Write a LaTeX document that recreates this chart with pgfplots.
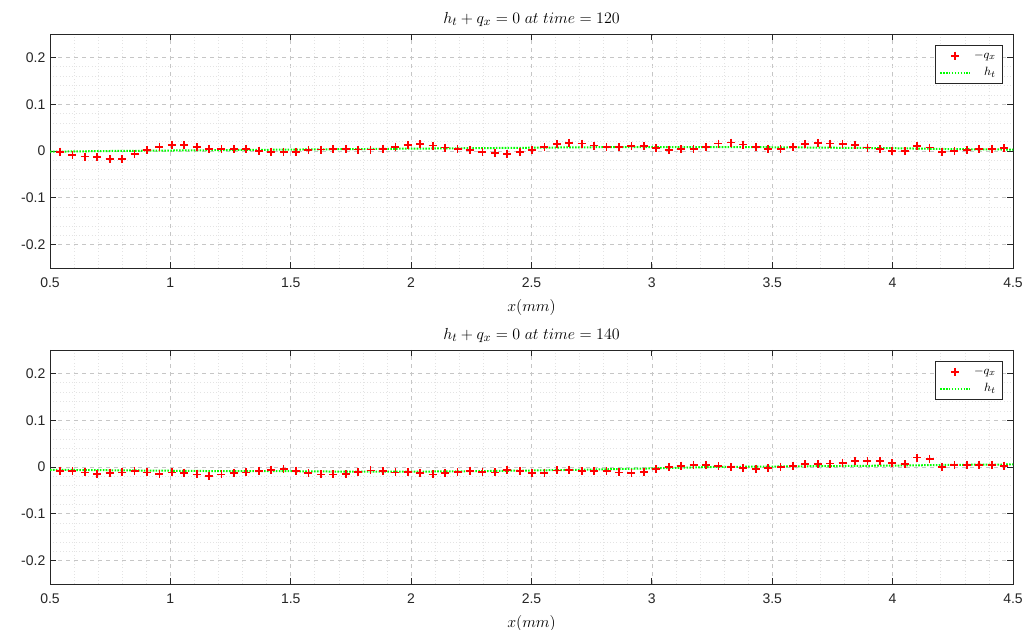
\documentclass[border=0pt]{standalone}
\usepackage{fontspec}
\setmainfont{Liberation Sans}
\usepackage{pgfplots}
\usepackage{pgfplotstable}
\pgfplotsset{compat=1.18}

% -q_x samples, time = 120
\pgfplotstableread{
x y
0.5415 -0.0014
0.5931 -0.0086
0.6447 -0.0120
0.6963 -0.0136
0.7479 -0.0170
0.7995 -0.0170
0.8511 -0.0065
0.9027 0.0020
0.9543 0.0093
1.0059 0.0130
1.0575 0.0130
1.1091 0.0080
1.1607 0.0043
1.2123 0.0043
1.2639 0.0043
1.3155 0.0043
1.3671 0.0007
1.4187 -0.0014
1.4703 -0.0020
1.5219 -0.0020
1.5735 0.0014
1.6251 0.0030
1.6767 0.0040
1.7283 0.0040
1.7799 0.0030
1.8315 0.0030
1.8831 0.0050
1.9347 0.0093
1.9863 0.0122
2.0379 0.0143
2.0895 0.0115
2.1411 0.0072
2.1927 0.0043
2.2443 0.0014
2.2959 -0.0022
2.3475 -0.0043
2.3991 -0.0057
2.4507 -0.0029
2.5023 0.0022
2.5539 0.0079
2.6055 0.0150
2.6571 0.0172
2.7087 0.0158
2.7603 0.0115
2.8119 0.0079
2.8635 0.0079
2.9151 0.0100
2.9667 0.0100
3.0183 0.0065
3.0699 0.0029
3.1215 0.0036
3.1731 0.0050
3.2247 0.0079
3.2763 0.0158
3.3279 0.0179
3.3795 0.0136
3.4311 0.0086
3.4827 0.0050
3.5343 0.0043
3.5859 0.0093
3.6375 0.0150
3.6891 0.0172
3.7407 0.0158
3.7923 0.0150
3.8439 0.0122
3.8955 0.0072
3.9471 0.0036
3.9987 0.0000
4.0503 -0.0007
4.1019 0.0108
4.1535 0.0072
4.2051 -0.0014
4.2567 0.0000
4.3083 0.0029
4.3599 0.0036
4.4115 0.0043
4.4631 0.0057
}\qtopdata

% h_t, time = 120
\pgfplotstableread{
x y
0.50 -0.0015
0.75 0.0000
1.00 0.0010
1.25 0.0020
1.50 0.0030
1.75 0.0040
2.00 0.0050
2.25 0.0060
2.50 0.0070
2.75 0.0080
3.00 0.0085
3.25 0.0085
3.50 0.0080
3.75 0.0070
4.00 0.0060
4.25 0.0040
4.50 0.0030
}\htopdata

% -q_x samples, time = 140
\pgfplotstableread{
x y
0.5415 -0.0079
0.5931 -0.0086
0.6447 -0.0115
0.6963 -0.0143
0.7479 -0.0122
0.7995 -0.0115
0.8511 -0.0086
0.9027 -0.0115
0.9543 -0.0143
1.0059 -0.0115
1.0575 -0.0122
1.1091 -0.0158
1.1607 -0.0186
1.2123 -0.0158
1.2639 -0.0129
1.3155 -0.0115
1.3671 -0.0079
1.4187 -0.0057
1.4703 -0.0050
1.5219 -0.0079
1.5735 -0.0136
1.6251 -0.0158
1.6767 -0.0158
1.7283 -0.0150
1.7799 -0.0108
1.8315 -0.0072
1.8831 -0.0093
1.9347 -0.0115
1.9863 -0.0100
2.0379 -0.0136
2.0895 -0.0158
2.1411 -0.0129
2.1927 -0.0108
2.2443 -0.0079
2.2959 -0.0100
2.3475 -0.0115
2.3991 -0.0057
2.4507 -0.0086
2.5023 -0.0136
2.5539 -0.0122
2.6055 -0.0072
2.6571 -0.0057
2.7087 -0.0086
2.7603 -0.0086
2.8119 -0.0086
2.8635 -0.0115
2.9151 -0.0129
2.9667 -0.0100
3.0183 -0.0043
3.0699 0.0000
3.1215 0.0029
3.1731 0.0036
3.2247 0.0036
3.2763 0.0014
3.3279 0.0000
3.3795 -0.0029
3.4311 -0.0036
3.4827 -0.0029
3.5343 0.0000
3.5859 0.0029
3.6375 0.0057
3.6891 0.0057
3.7407 0.0072
3.7923 0.0093
3.8439 0.0122
3.8955 0.0122
3.9471 0.0122
3.9987 0.0086
4.0503 0.0057
4.1019 0.0201
4.1535 0.0172
4.2051 0.0000
4.2567 0.0036
4.3083 0.0043
4.3599 0.0050
4.4115 0.0043
4.4631 0.0029
}\qbotdata

% h_t, time = 140
\pgfplotstableread{
x y
0.50 -0.0060
0.75 -0.0070
1.00 -0.0080
1.25 -0.0090
1.50 -0.0090
1.75 -0.0100
2.00 -0.0100
2.25 -0.0090
2.50 -0.0075
2.75 -0.0055
3.00 -0.0030
3.25 0.0000
3.50 0.0010
3.75 0.0020
4.00 0.0030
4.25 0.0045
4.50 0.0055
}\hbotdata

\definecolor{mgreen}{rgb}{0,1,0}
\definecolor{maxis}{rgb}{0.15,0.15,0.15}

\pgfplotsset{
  mlab/.style={
    scale only axis,
    width=722.25pt, height=175.5pt,
    xmin=0.5, xmax=4.5, ymin=-0.25, ymax=0.25,
    xtick={0.5,1,1.5,2,2.5,3,3.5,4,4.5},
    ytick={-0.2,-0.1,0,0.1,0.2},
    minor x tick num=4, minor y tick num=4,
    grid=both,
    major grid style={dashed, gray!45, line width=0.5pt},
    minor grid style={dotted, gray!22, line width=0.5pt},
    tick align=inside, major tick length=4.5pt, minor tick length=0pt,
    axis line style={maxis, line width=0.6pt},
    tick style={maxis, line width=0.6pt},
    ticklabel style={font=\fontsize{10.5}{12}\selectfont, text=maxis},
    xticklabel style={yshift=-3.5pt},
    /pgf/number format/assume math mode=true,
    title style={font=\fontsize{12.2}{14}\selectfont, yshift=-4pt},
    xlabel style={font=\fontsize{12}{14}\selectfont, yshift=-2.5pt},
    xlabel={$x(mm)$},
    legend cell align=right,
    legend style={at={(0.9896,0.951)}, anchor=north east,
      draw=maxis, line width=0.6pt, fill=white,
      font=\fontsize{9.5}{10}\selectfont, row sep=1.5pt},
    legend image code/.code={\draw[mark repeat=2,mark phase=2]
      plot coordinates {(0cm,0cm) (0.4cm,0cm) (0.8cm,0cm)};},
  },
  qstyle/.style={only marks, mark=+, mark size=3pt, red, line width=1.3pt},
  hstyle/.style={no marks, mgreen, line width=1.5pt, dash pattern=on 1.2pt off 1pt},
}

\begin{document}
\begin{tikzpicture}
\begin{axis}[mlab, at={(0pt,0pt)}, anchor=north west,
  title={$h_t + q_x = 0\ at\ time = 120$}]
\addplot[qstyle] table[x=x,y=y] {\qtopdata};
\addplot[hstyle] table[x=x,y=y] {\htopdata};
\legend{$-q_x$,$h_t$}
\end{axis}
\begin{axis}[mlab, at={(0pt,-237pt)}, anchor=north west,
  title={$h_t + q_x = 0\ at\ time = 140$}]
\addplot[qstyle] table[x=x,y=y] {\qbotdata};
\addplot[hstyle] table[x=x,y=y] {\hbotdata};
\legend{$-q_x$,$h_t$}
\end{axis}
\pgfresetboundingbox
\useasboundingbox (-37.5pt,25.5pt) rectangle (738.75pt,-447pt);
\end{tikzpicture}
\end{document}
